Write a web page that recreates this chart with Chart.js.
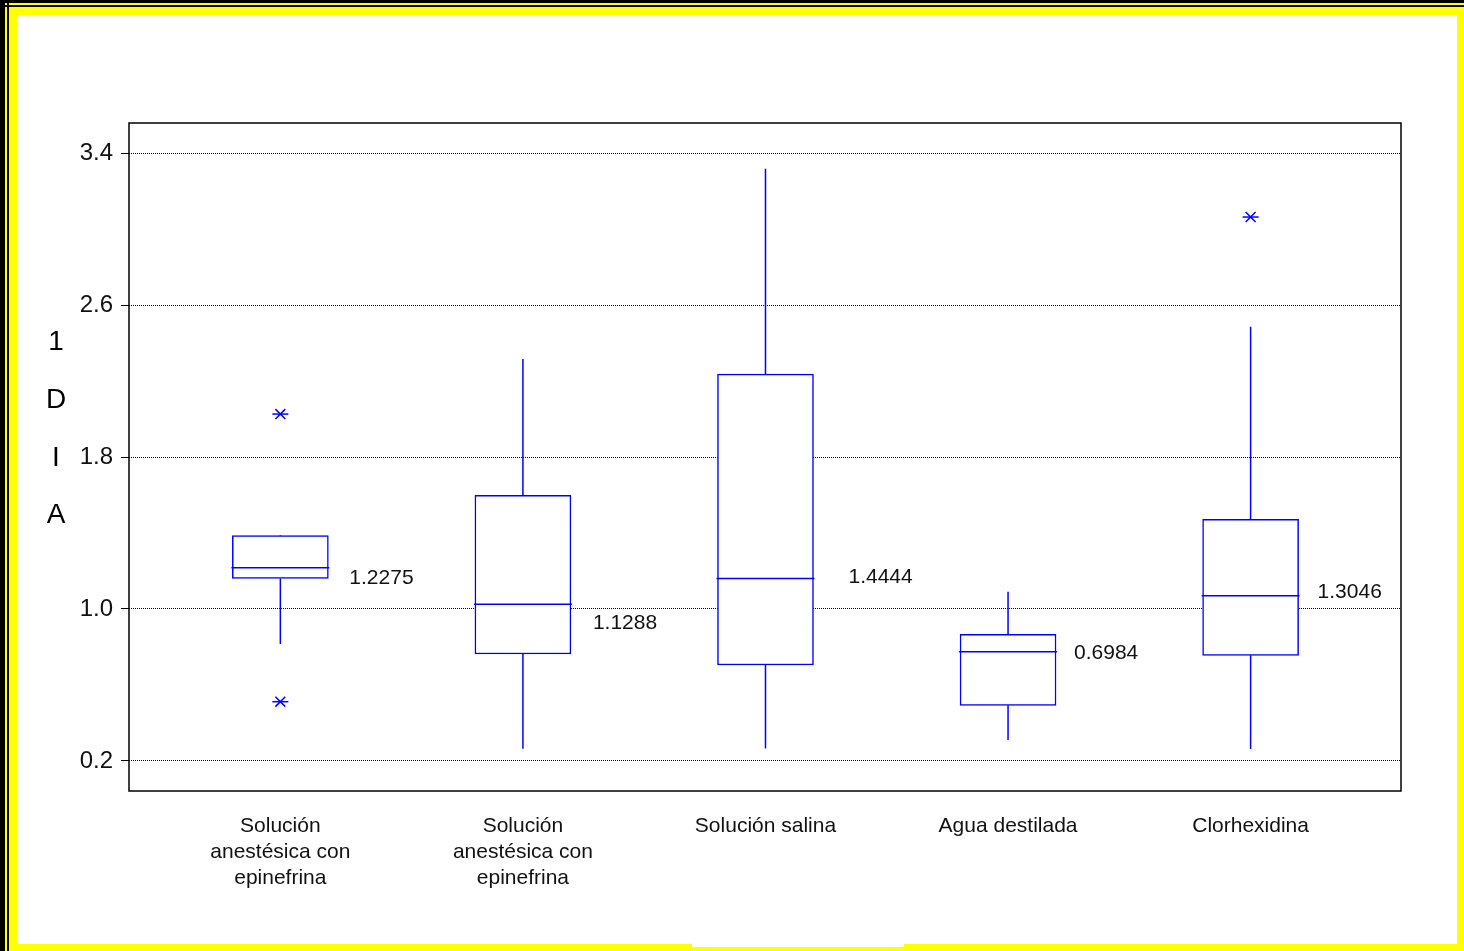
<!DOCTYPE html>
<html>
<head>
<meta charset="utf-8">
<script src="https://cdn.jsdelivr.net/npm/chart.js@4.4.1/dist/chart.umd.min.js"></script>
<style>
  html, body { margin: 0; padding: 0; }
  body { width: 1464px; height: 951px; position: relative; overflow: hidden; background: #ffff00; }
  .bar { position: absolute; background: #000; }
  #sheet { position: absolute; left: 17px; top: 15px; width: 1440px; height: 929px; background: #fff; }
  #notch { position: absolute; left: 692px; top: 944px; width: 212px; height: 3px; background: #fff; }
  #wrap { position: absolute; left: 0; top: 0; width: 1464px; height: 951px; }
</style>
</head>
<body>
<div class="bar" style="left:0;top:0;width:5px;height:951px"></div>
<div class="bar" style="left:7px;top:0;width:2px;height:951px"></div>
<div class="bar" style="left:0;top:0;width:1464px;height:3px"></div>
<div class="bar" style="left:0;top:5px;width:1464px;height:2px"></div>
<div id="sheet"></div>
<div id="notch"></div>
<div id="wrap"><canvas id="chart"></canvas></div>
<script>
// Group names (split into lines for the axis)
const categories = [
  ["Solución", "anestésica con", "epinefrina"],
  ["Solución", "anestésica con", "epinefrina"],
  ["Solución salina"],
  ["Agua destilada"],
  ["Clorhexidina"]
];

// Five-number summaries per group
const whiskerLow  = [0.816, 0.264, 0.266, 0.311, 0.263];
const quartile1   = [1.161, 0.763, 0.705, 0.493, 0.756];
const medians     = [1.217, 1.025, 1.160, 0.775, 1.070];
const quartile3   = [1.386, 1.598, 2.236, 0.867, 1.472];
const whiskerHigh = [1.390, 2.316, 3.317, 1.091, 2.486];

// Outlying observations per group
const outliers = [[2.026, 0.512], [], [], [], [3.063]];

// Group means printed beside each box
const means = [1.2275, 1.1288, 1.4444, 0.6984, 1.3046];

// Value-axis tick labels
const yTicks = [0.2, 1.0, 1.8, 2.6, 3.4];

// Y-axis caption, drawn one character per line
const yCaption = ["1", "D", "I", "A"];

// Placement of the mean labels relative to box centre / median (pixels)
const meanLabelDx = [69, 70, 83, 66, 67];
const meanLabelDy = [10, 19, -1, 1, -3];

const BLUE = "#0000ff";
const FONT = "Arial, 'Liberation Sans', sans-serif";

const positions = categories.map((_, i) => i + 1);

const boxData = positions.map((x, i) => ({ x, y: [quartile1[i], quartile3[i]] }));

const whiskerData = [];
positions.forEach((x, i) => {
  whiskerData.push({ x, y: quartile3[i] }, { x, y: whiskerHigh[i] }, { x, y: null });
  whiskerData.push({ x, y: quartile1[i] }, { x, y: whiskerLow[i] }, { x, y: null });
});

const medianData = positions.map((x, i) => ({ x, y: medians[i] }));

const outlierData = [];
positions.forEach((x, i) => outliers[i].forEach(v => outlierData.push({ x, y: v })));

const framePlugin = {
  id: "frame",
  afterDatasetsDraw(chart) {
    const { ctx, chartArea: a } = chart;
    ctx.save();
    ctx.strokeStyle = "#000";
    ctx.lineWidth = 1.5;
    ctx.strokeRect(a.left, a.top, a.right - a.left, a.bottom - a.top);
    ctx.restore();
  }
};

const meanLabelPlugin = {
  id: "meanLabels",
  afterDatasetsDraw(chart) {
    const { ctx } = chart;
    const xs = chart.scales.x, ys = chart.scales.y;
    ctx.save();
    ctx.font = "21px " + FONT;
    ctx.fillStyle = "#111";
    ctx.textAlign = "left";
    ctx.textBaseline = "middle";
    means.forEach((m, i) => {
      const px = xs.getPixelForValue(positions[i]) + meanLabelDx[i];
      const py = ys.getPixelForValue(medians[i]) + meanLabelDy[i];
      ctx.fillText(m.toFixed(4), px, py);
    });
    ctx.restore();
  }
};

const captionPlugin = {
  id: "yCaption",
  afterDraw(chart) {
    const { ctx, chartArea: a } = chart;
    const step = 57.7;
    const mid = (a.top + a.bottom) / 2 - 28;
    const start = mid - step * (yCaption.length - 1) / 2;
    ctx.save();
    ctx.font = "28px " + FONT;
    ctx.fillStyle = "#000";
    ctx.textAlign = "center";
    ctx.textBaseline = "middle";
    yCaption.forEach((ch, i) => ctx.fillText(ch, 56, start + i * step));
    ctx.restore();
  }
};

new Chart(document.getElementById("chart"), {
  type: "bar",
  data: {
    datasets: [
      {
        type: "line",
        data: whiskerData,
        borderColor: BLUE,
        borderWidth: 1.5,
        pointRadius: 0,
        spanGaps: false,
        order: 3
      },
      {
        type: "bar",
        data: boxData,
        backgroundColor: "#ffffff",
        borderColor: BLUE,
        borderWidth: 1.5,
        borderSkipped: false,
        barThickness: 96,
        order: 2
      },
      {
        type: "scatter",
        data: medianData,
        pointStyle: "line",
        pointRadius: 49,
        borderColor: BLUE,
        pointBorderWidth: 1.5,
        order: 1
      },
      {
        type: "scatter",
        data: outlierData,
        pointStyle: "crossRot",
        pointRadius: 7,
        borderColor: BLUE,
        pointBorderWidth: 1.5,
        order: 1
      },
      {
        type: "scatter",
        data: outlierData,
        pointStyle: "line",
        pointRadius: 8,
        borderColor: BLUE,
        pointBorderWidth: 1.5,
        order: 1
      }
    ]
  },
  options: {
    responsive: true,
    maintainAspectRatio: false,
    animation: false,
    events: [],
    layout: { padding: { top: 123, right: 63, left: 0, bottom: 0 } },
    plugins: { legend: { display: false }, tooltip: { enabled: false } },
    scales: {
      x: {
        type: "linear",
        offset: false,
        min: 0.376,
        max: 5.62,
        grid: { display: false, drawTicks: false },
        border: { display: false },
        afterBuildTicks(scale) { scale.ticks = positions.map(v => ({ value: v })); },
        afterFit(scale) { scale.height = 160; },
        ticks: {
          autoSkip: false,
          maxRotation: 0,
          minRotation: 0,
          padding: 22,
          color: "#111",
          font: { family: FONT, size: 21, lineHeight: 1.24 },
          callback: v => categories[v - 1]
        }
      },
      y: {
        type: "linear",
        min: 0.042,
        max: 3.558,
        border: { display: false, dash: [1, 1] },
        grid: {
          color: "#000",
          lineWidth: 1,
          tickLength: 8,
          tickColor: "#000",
          tickBorderDash: []
        },
        afterBuildTicks(scale) { scale.ticks = yTicks.map(v => ({ value: v })); },
        afterFit(scale) { scale.width = 129; },
        ticks: {
          padding: 8,
          color: "#111",
          font: { family: FONT, size: 24 },
          callback: v => Number(v).toFixed(1)
        }
      }
    }
  },
  plugins: [framePlugin, meanLabelPlugin, captionPlugin]
});
</script>
</body>
</html>
